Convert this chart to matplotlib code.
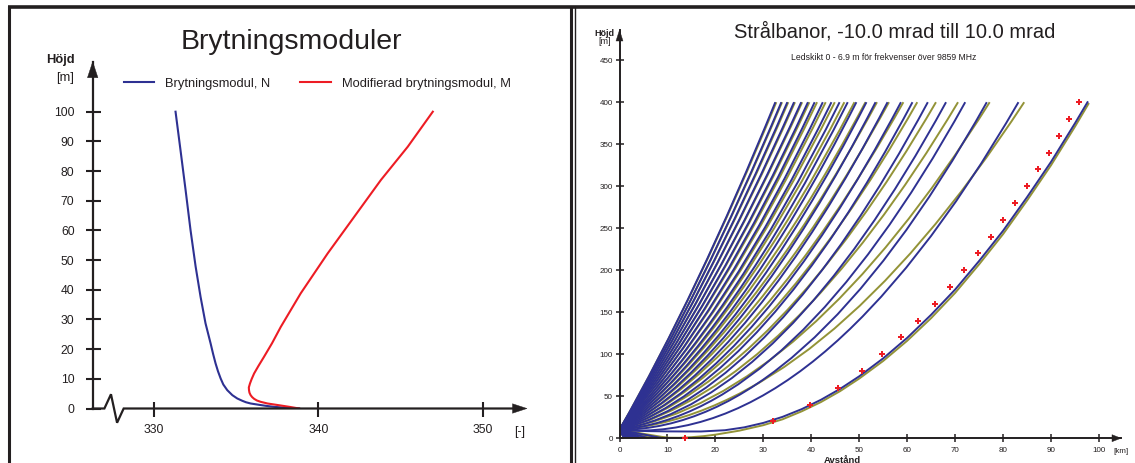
import matplotlib
matplotlib.use('Agg')
import matplotlib.pyplot as plt
from matplotlib.path import Path
from matplotlib.patches import PathPatch, Polygon
from matplotlib.lines import Line2D

plt.rcParams['font.family'] = ['Liberation Sans', 'DejaVu Sans']

# ---------------- data: left panel (refractivity profiles) ----------------
n_height = [0, 0.22, 0.56, 0.9, 1.24, 1.69, 2.1, 2.58, 3.37, 4.49, 6.18, 8.09, 10.1,
            12.5, 15.2, 18.4, 21.9, 28.7, 37.6, 47.8, 60.1, 73.6, 87.1, 100]
n_value = [338.82, 338.1, 337.30, 336.8, 336.39, 335.88, 335.6, 335.38, 335.07,
           334.77, 334.46, 334.22, 334.06, 333.9, 333.75, 333.6, 333.45, 333.14,
           332.84, 332.54, 332.23, 331.93, 331.62, 331.32]
m_height = [0, 0.5, 1.01, 1.69, 2.25, 2.7, 3.26, 3.85, 4.49, 5.3, 6.18, 7.1, 8.43,
            9.9, 11.8, 14.3, 17.4, 22.0, 27.5, 38.8, 52.2, 64.6, 77.0, 88.2, 100]
m_value = [338.82, 338.3, 337.71, 336.90, 336.49, 336.26, 336.09, 335.97, 335.88,
           335.81, 335.78, 335.77, 335.84, 335.94, 336.09, 336.35, 336.69, 337.18,
           337.71, 338.92, 340.55, 342.17, 343.79, 345.42, 346.94]
left_xticks = [330, 340, 350]
left_yticks = [0, 10, 20, 30, 40, 50, 60, 70, 80, 90, 100]

# ---------------- data: right panel (ray paths) ----------------
source_height_m = 10
top_height_m = 400
blue_launch_mrad = [10, 9.5, 9, 8.5, 8, 7.5, 7, 6.5, 6, 5.5, 5, 4.5, 4, 3.5, 3, 2.5,
                    2, 1.5, 1, 0.5, 0, -0.5]
blue_reach_km = [32.5, 33.75, 35.0, 36.4, 37.9, 39.3, 40.7, 42.4, 44.2, 45.9, 47.6,
                 49.4, 51.5, 53.4, 55.9, 58.7, 61.1, 64.3, 68.1, 72.1, 76.6, 83.2]
olive_launch_mrad = [10, 9.5, 9, 8.5, 8, 7.5, 7, 6.5, 6, 5.5, 5, 4.5, 4, 3.5, 3, 2.5,
                     2, 1.5, 1, 0.5]
olive_reach_km = [32.7, 33.9, 35.2, 36.6, 38.1, 39.6, 41.2, 43.0, 44.9, 46.9, 49.0,
                  51.3, 53.7, 56.2, 59.2, 62.1, 66.0, 70.6, 77.2, 84.4]
ground_launch_mrad = [-1.5, -2, -2.5, -3, -3.5, -4, -4.5, -5, -5.5, -6, -6.5, -7,
                      -7.5, -8, -8.5, -9, -9.5, -10]
blue_ground_km = [9.0, 6.0, 4.6, 3.7, 3.1, 2.65, 2.3, 2.05, 1.85, 1.68, 1.54, 1.42,
                  1.32, 1.24, 1.17, 1.10, 1.04, 0.99]
olive_ground_km = [10.5, 6.6, 5.0, 4.0, 3.3, 2.8, 2.45, 2.15, 1.93, 1.75, 1.6, 1.47,
                   1.36, 1.27, 1.19, 1.12, 1.06, 1.01]
low_blue_km = [0, 3, 6, 10, 14, 17, 22, 26, 30, 34, 38, 42, 46, 50, 55, 60, 65, 70,
               75, 80, 85, 90, 95, 97.6]
low_blue_m = [10, 9.0, 8.4, 8.1, 8.0, 8.0, 9.5, 12.9, 18.2, 25.4, 34.6, 45.7, 58.7,
              73.7, 95.1, 119.5, 147, 177, 211, 247, 287, 329, 375, 400]
low_olive_km = [0, 2.5, 5, 7.5, 10, 12.5, 15, 17.5, 20, 25, 30, 34, 38, 42, 46, 50,
                55, 60, 65, 70, 75, 80, 85, 90, 95, 97.8]
low_olive_m = [10, 6.5, 3.6, 1.6, 0.6, 0.5, 1.2, 2.4, 4.2, 9.0, 15.5, 22.5, 32.0,
               43.0, 56.0, 71.0, 92.0, 116, 143, 173, 207, 243, 283, 325, 371, 398]
dot_km = [13.7, 32.1, 39.7, 45.5, 50.5, 54.8, 58.7, 62.3, 65.7, 68.9, 71.8, 74.7,
          77.4, 80.0, 82.5, 84.9, 87.2, 89.5, 91.7, 93.8, 95.9]
dot_m = [0, 20, 40, 60, 80, 100, 120, 140, 160, 180, 200, 220, 240, 260, 280, 300,
         320, 340, 360, 380, 400]
right_xticks = [0, 10, 20, 30, 40, 50, 60, 70, 80, 90, 100]
right_yticks = [0, 50, 100, 150, 200, 250, 300, 350, 400, 450]

# ---------------- styling ----------------
W, H = 1135, 463
INK = '#231f20'
BLUE = '#2e3192'
OLIVE = '#939337'
RED = '#ed1c24'

fig = plt.figure(figsize=(W / 100, H / 100), dpi=100)


def fx(px):
    return px / W


def fy(py):
    return (H - py) / H


def ftext(px, py, s, **kw):
    fig.text(fx(px), fy(py), s, transform=fig.transFigure, color=INK, **kw)


def fline(xs, ys, lw):
    fig.add_artist(Line2D([fx(x) for x in xs], [fy(y) for y in ys],
                          transform=fig.transFigure, color=INK, lw=lw,
                          solid_capstyle='butt'))


def farrow(tip, direction, length, width):
    x, y = tip
    if direction == 'up':
        pts = [(x, y), (x - width / 2, y + length), (x + width / 2, y + length)]
    else:
        pts = [(x, y), (x - length, y - width / 2), (x - length, y + width / 2)]
    fig.add_artist(Polygon([(fx(a), fy(b)) for a, b in pts], closed=True,
                           transform=fig.transFigure, facecolor=INK,
                           edgecolor=INK, lw=0.3))


# panel frames
fline([9, 9], [5.5, 463], 2.2)
fline([7.9, 1135], [7, 7], 2.6)
fline([571, 571], [7, 463], 2.2)
fline([574.6, 574.6], [7, 463], 1.0)

# ================= left panel =================
L0, R0, B0, T0 = 92.7, 527.0, 408.5, 61.7
ax1 = fig.add_axes([fx(L0), fy(B0), fx(R0) - fx(L0), fy(T0) - fy(B0)])
ax1.set_xlim(326.29, 352.66)
ax1.set_ylim(0, (B0 - T0) / 2.968)
ax1.patch.set_alpha(0)
for s in ('top', 'right', 'bottom'):
    ax1.spines[s].set_visible(False)
ax1.spines['left'].set_linewidth(1.6)
ax1.spines['left'].set_color(INK)
ax1.set_xticks(left_xticks)
ax1.set_yticks(left_yticks)
ax1.tick_params(direction='inout', length=10.8, width=1.5, color=INK,
                labelsize=8.7, labelcolor=INK)
ax1.tick_params(axis='x', pad=5.5)
ax1.tick_params(axis='y', pad=7.7)

l_n, = ax1.plot(n_value, n_height, color=BLUE, lw=1.5, label='Brytningsmodul, N',
                solid_joinstyle='round')
l_m, = ax1.plot(m_value, m_height, color=RED, lw=1.5,
                label='Modifierad brytningsmodul, M', solid_joinstyle='round')

# x axis with break
xb = [326.29, 327.0, 327.4, 327.77, 328.17, 352.2]
yb = [0, 0, 4.8, -4.8, 0, 0]
ax1.plot(xb, yb, color=INK, lw=1.6, clip_on=False, solid_joinstyle='miter')
farrow((L0, T0), 'up', 16, 10.5)
farrow((R0, B0), 'right', 14.5, 9.5)

leg = fig.legend(handles=[l_n, l_m], loc='center left',
                 bbox_to_anchor=(fx(123.6), fy(84)), ncol=2, frameon=False,
                 fontsize=9.3, handlelength=2.35, handletextpad=0.85,
                 columnspacing=2.35, borderpad=0, borderaxespad=0)
for t in leg.get_texts():
    t.set_color(INK)

ftext(291, 42, 'Brytningsmoduler', fontsize=20.5, ha='center', va='center')
ftext(60, 60.5, 'Höjd', fontsize=9.3, fontweight='bold', ha='center', va='center')
ftext(65, 77.5, '[m]', fontsize=9.3, ha='center', va='center')
ftext(520, 431.5, '[-]', fontsize=9, ha='center', va='center')

# ================= right panel =================
L2, R2, B2, T2 = 619.5, 1121.0, 438.2, 30.0
ax2 = fig.add_axes([fx(L2), fy(B2), fx(R2) - fx(L2), fy(T2) - fy(B2)])
ax2.set_xlim(0, (R2 - L2) / 4.795)
ax2.set_ylim(0, (B2 - T2) / 0.84)
ax2.patch.set_alpha(0)
for s in ('top', 'right'):
    ax2.spines[s].set_visible(False)
for s in ('left', 'bottom'):
    ax2.spines[s].set_linewidth(1.4)
    ax2.spines[s].set_color(INK)
ax2.set_xticks(right_xticks)
ax2.set_yticks(right_yticks)
ax2.tick_params(direction='inout', length=5.8, width=1.1, color=INK,
                labelsize=5.8, labelcolor=INK)
ax2.tick_params(axis='x', pad=3.2)
ax2.tick_params(axis='y', pad=2.0)


def ray(theta, reach, color):
    verts = [(0, source_height_m),
             (reach / 2, source_height_m + theta * reach / 2),
             (reach, top_height_m)]
    p = Path(verts, [Path.MOVETO, Path.CURVE3, Path.CURVE3])
    ax2.add_patch(PathPatch(p, fill=False, edgecolor=color, lw=1.4,
                            capstyle='butt'))


# olive rays (beneath)
for th, xg in zip(ground_launch_mrad, olive_ground_km):
    ax2.plot([0, xg], [source_height_m, 0], color=OLIVE, lw=1.4)
for th, rx in zip(olive_launch_mrad, olive_reach_km):
    ray(th, rx, OLIVE)
ax2.plot(low_olive_km, low_olive_m, color=OLIVE, lw=1.4)

# blue rays
for th, xg in zip(ground_launch_mrad, blue_ground_km):
    ax2.plot([0, xg], [source_height_m, 0], color=BLUE, lw=1.4)
for th, rx in zip(blue_launch_mrad, blue_reach_km):
    ray(th, rx, BLUE)
ax2.plot(low_blue_km, low_blue_m, color=BLUE, lw=1.4)

# reference points
ax2.plot(dot_km, dot_m, linestyle='none', marker='P', markersize=4.6,
         color=RED, markeredgewidth=0, clip_on=False, zorder=5)

farrow((L2, T2), 'up', 11, 7)
farrow((R2, B2), 'right', 9, 7)

ftext(895, 32, 'Strålbanor, -10.0 mrad till 10.0 mrad', fontsize=14.5,
      ha='center', va='center')
ftext(884, 57, 'Ledskikt 0 - 6.9 m för frekvenser över 9859 MHz', fontsize=6.2,
      ha='center', va='center')
ftext(604, 33.5, 'Höjd', fontsize=6.5, fontweight='bold', ha='center', va='center')
ftext(605, 41.5, '[m]', fontsize=6.5, ha='center', va='center')
ftext(1121, 451.3, '[km]', fontsize=5.8, ha='center', va='center')
ftext(842, 456, 'Avstånd', fontsize=6.8, fontweight='bold', ha='center', va='top')

fig.savefig('out.png', dpi=100)
